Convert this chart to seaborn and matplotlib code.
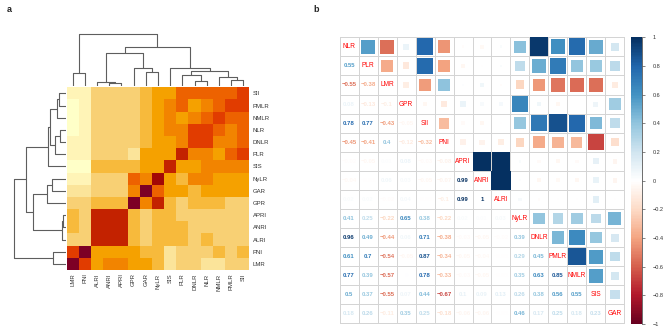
import numpy as np
import pandas as pd
import matplotlib
matplotlib.use("Agg")
import matplotlib.pyplot as plt
from matplotlib.colors import ListedColormap, LinearSegmentedColormap, Normalize
import seaborn as sns

sns.set_style("white")
plt.rcParams['font.family'] = ['Liberation Sans', 'DejaVu Sans']

# variables in corrplot order
labels = ["NLR", "PLR", "LMR", "GPR", "SII", "PNI", "APRI", "ANRI", "ALRI",
          "NyLR", "DNLR", "PMLR", "NMLR", "SIS", "GAR"]

# lower triangle of the correlation matrix, row by row
lower_rows = [
    [0.55],
    [-0.55, -0.38],
    [0.08, -0.13, -0.10],
    [0.78, 0.77, -0.43, -0.05],
    [-0.45, -0.41, 0.40, -0.12, -0.32],
    [-0.02, -0.05, 0.01, 0.08, -0.03, -0.08],
    [-0.04, -0.01, 0.06, 0.03, -0.05, -0.07, 0.99],
    [0.02, 0.02, -0.02, 0.04, -0.01, -0.10, 0.99, 1.00],
    [0.41, 0.25, -0.22, 0.65, 0.38, -0.22, 0.02, 0.01, 0.03],
    [0.96, 0.49, -0.44, 0.06, 0.71, -0.38, -0.03, -0.05, -0.02, 0.39],
    [0.61, 0.70, -0.54, -0.05, 0.87, -0.34, -0.05, -0.04, -0.01, 0.29, 0.45],
    [0.77, 0.39, -0.57, 0.00, 0.78, -0.33, -0.03, -0.05, -0.01, 0.35, 0.63, 0.85],
    [0.50, 0.37, -0.55, 0.07, 0.44, -0.67, 0.10, 0.09, 0.13, 0.26, 0.38, 0.56, 0.55],
    [0.18, 0.26, -0.11, 0.35, 0.25, -0.18, -0.06, -0.06, -0.01, 0.46, 0.17, 0.25, 0.18, 0.23],
]

# clustered order used in panel a (columns, left to right)
leaf_order = ["LMR", "PNI", "ALRI", "ANRI", "APRI", "GPR", "GAR", "NyLR", "SIS",
              "PLR", "DNLR", "NLR", "NMLR", "PMLR", "SII"]

# merges: (child a, child b, height); ids >= 15 are earlier merges
merges = [
    (3, 4, 2.7), (2, 15, 3.7), (10, 11, 5.3), (13, 14, 6.5), (12, 18, 8.7),
    (9, 17, 11.0), (0, 1, 13.0), (6, 7, 13.7), (20, 19, 15.5), (8, 23, 17.7),
    (5, 22, 18.3), (16, 25, 32.7), (26, 24, 39.3), (21, 27, 52.0),
]

rdbu = ["#67001F", "#B2182B", "#D6604D", "#F4A582", "#FDDBC7", "#FFFFFF",
        "#D1E5F0", "#92C5DE", "#4393C3", "#2166AC", "#053061"]


def hcl_ylorrd(n_col):
    # sequential HCL palette "YlOrRd", light -> dark
    h1, h2, c1, c2, l1, l2, p1, p2, cmax = 5, 85, 75, 40, 25, 99, 1.6, 1.3, 180
    i = np.linspace(1, 0, n_col)
    j = 1 / (1 + abs(cmax - c1) / abs(cmax - c2))
    ip = i ** p1
    C = np.where(ip <= j, c2 - (c2 - cmax) * ip / j, cmax - (cmax - c1) * (ip - j) / (1 - j))
    L = l2 - (l2 - l1) * i ** p2
    Hh = np.deg2rad(h2 - (h2 - h1) * i)
    U, V = C * np.cos(Hh), C * np.sin(Hh)
    Xn, Yn, Zn = 95.047, 100.0, 108.883
    un = 4 * Xn / (Xn + 15 * Yn + 3 * Zn)
    vn = 9 * Yn / (Xn + 15 * Yn + 3 * Zn)
    Y = np.where(L > 8, Yn * ((L + 16) / 116) ** 3, Yn * L / 903.3)
    u = U / (13 * L) + un
    v = V / (13 * L) + vn
    X = 9 * Y * u / (4 * v)
    Z = -X / 3 - 5 * Y + 3 * Y / v
    xyz = np.stack([X, Y, Z]) / 100
    M = np.array([[3.240479, -1.537150, -0.498535],
                  [-0.969256, 1.875992, 0.041556],
                  [0.055648, -0.204043, 1.057311]])
    rgb = M @ xyz
    rgb = np.where(rgb > 0.0031308, 1.055 * np.abs(rgb) ** (1 / 2.4) - 0.055, 12.92 * rgb)
    rgb = np.clip(rgb, 0, 1).T
    return [tuple(c) for c in rgb[::-1]]


n = len(labels)
corr = np.eye(n)
for i, row in enumerate(lower_rows, start=1):
    for j, v in enumerate(row):
        corr[i, j] = v
        corr[j, i] = v
corr_df = pd.DataFrame(corr, index=labels, columns=labels)


def dendro_segments(merges, n_leaves):
    pos = {k: k + 0.5 for k in range(n_leaves)}
    hgt = {k: 0.0 for k in range(n_leaves)}
    segs = []
    for m, (a, b, h) in enumerate(merges):
        cid = n_leaves + m
        segs.append(([pos[a], pos[a], pos[b], pos[b]], [hgt[a], h, h, hgt[b]]))
        pos[cid] = (pos[a] + pos[b]) / 2
        hgt[cid] = h
    return segs


fig = plt.figure(figsize=(6.69, 3.36), dpi=100)
W, H = 669.0, 336.0


def add_ax(x0, y0, x1, y1):
    return fig.add_axes([x0 / W, 1 - y1 / H, (x1 - x0) / W, (y1 - y0) / H])


# ---- panel a: row-scaled clustered heatmap ----
row_order = leaf_order[::-1]
mat = corr_df.loc[row_order, leaf_order]
scaled = mat.sub(mat.mean(axis=1), axis=0).div(mat.std(axis=1, ddof=1), axis=0)

ax_h = add_ax(66.7, 87.3, 249.3, 270.0)
sns.heatmap(scaled, cmap=ListedColormap(hcl_ylorrd(12)), cbar=False, ax=ax_h,
            vmin=scaled.values.min(), vmax=scaled.values.max(),
            xticklabels=True, yticklabels=True)
ax_h.yaxis.tick_right()
ax_h.tick_params(length=0, labelsize=4.3, colors='#333333', pad=2.5)
ax_h.set_yticklabels(row_order, rotation=0)
ax_h.set_xticklabels(leaf_order, rotation=90)
ax_h.set_xlabel("")
ax_h.set_ylabel("")

segs = dendro_segments(merges, n)
ax_top = add_ax(66.7, 33.0, 249.3, 86.0)
for xs, ys in segs:
    ax_top.plot(xs, ys, color='#5e5e5e', lw=0.8)
ax_top.set_xlim(0, n)
ax_top.set_ylim(0, 53)
ax_top.axis('off')

ax_left = add_ax(12.7, 87.3, 65.7, 270.0)
for xs, ys in segs:
    ax_left.plot(ys, xs, color='#5e5e5e', lw=0.8)
ax_left.set_ylim(0, n)
ax_left.set_xlim(53, 0)
ax_left.axis('off')

# ---- panel b: mixed correlation plot ----
cmap_rb = LinearSegmentedColormap.from_list("rdbu", rdbu, N=200)
norm = Normalize(-1, 1)

ax_c = add_ax(339.0, 36.7, 625.0, 324.0)
sns.heatmap(np.zeros((n, n)), cmap=ListedColormap(["white"]), cbar=False, ax=ax_c,
            linewidths=0.6, linecolor='#d4d4d4', xticklabels=False, yticklabels=False)
ax_c.set_xlim(-0.03, n + 0.03)
ax_c.set_ylim(n + 0.03, -0.03)

upper = []
for i in range(n):
    for j in range(i + 1, n):
        upper.append({"x": j + 0.5, "y": i + 0.5, "r": corr[i, j], "a": abs(corr[i, j])})
upper = pd.DataFrame(upper)
cell_pt = 286.0 / n * 72 / 100
sns.scatterplot(data=upper, x="x", y="y", hue="r", size="a", palette=cmap_rb,
                hue_norm=(-1, 1), sizes=(0, cell_pt ** 2), size_norm=(0, 1),
                marker="s", linewidth=0, legend=False, ax=ax_c)
ax_c.set_xlabel("")
ax_c.set_ylabel("")
ax_c.set_xticks([])
ax_c.set_yticks([])


def fmt(v):
    s = ("%.2f" % v).rstrip("0").rstrip(".")
    if s in ("-0", ""):
        s = "0"
    return s.replace("-", "\u2212")


for i in range(n):
    for j in range(i):
        v = corr[i, j]
        ax_c.text(j + 0.5, i + 0.5, fmt(v), ha='center', va='center',
                  fontsize=4.3, fontweight='bold', color=cmap_rb(norm(v)))
    ax_c.text(i + 0.5, i + 0.5, labels[i], ha='center', va='center',
              fontsize=4.7, color='#FF0000')
for sp in ax_c.spines.values():
    sp.set_visible(False)

ax_cb = add_ax(630.7, 37.3, 641.7, 324.0)
sm = plt.cm.ScalarMappable(cmap=cmap_rb, norm=norm)
cb_ticks = np.round(np.arange(-1, 1.01, 0.2), 1)
cbar = fig.colorbar(sm, cax=ax_cb, ticks=cb_ticks)
cbar.outline.set_visible(False)
cbar.ax.plot([1, 1], [0, 1], transform=cbar.ax.transAxes, color='#555555', lw=0.6,
             clip_on=False)
cbar.ax.set_yticklabels([fmt(t) for t in cb_ticks])
cbar.ax.tick_params(labelsize=4, length=2, width=0.5, color='#555555', pad=6, colors='#333333')

fig.text(7 / W, 1 - 10 / H, "a", fontsize=6.5, fontweight='bold', ha='left', va='center')
fig.text(313 / W, 1 - 10 / H, "b", fontsize=6.5, fontweight='bold', ha='left', va='center')

fig.savefig("out.png", dpi=100)
